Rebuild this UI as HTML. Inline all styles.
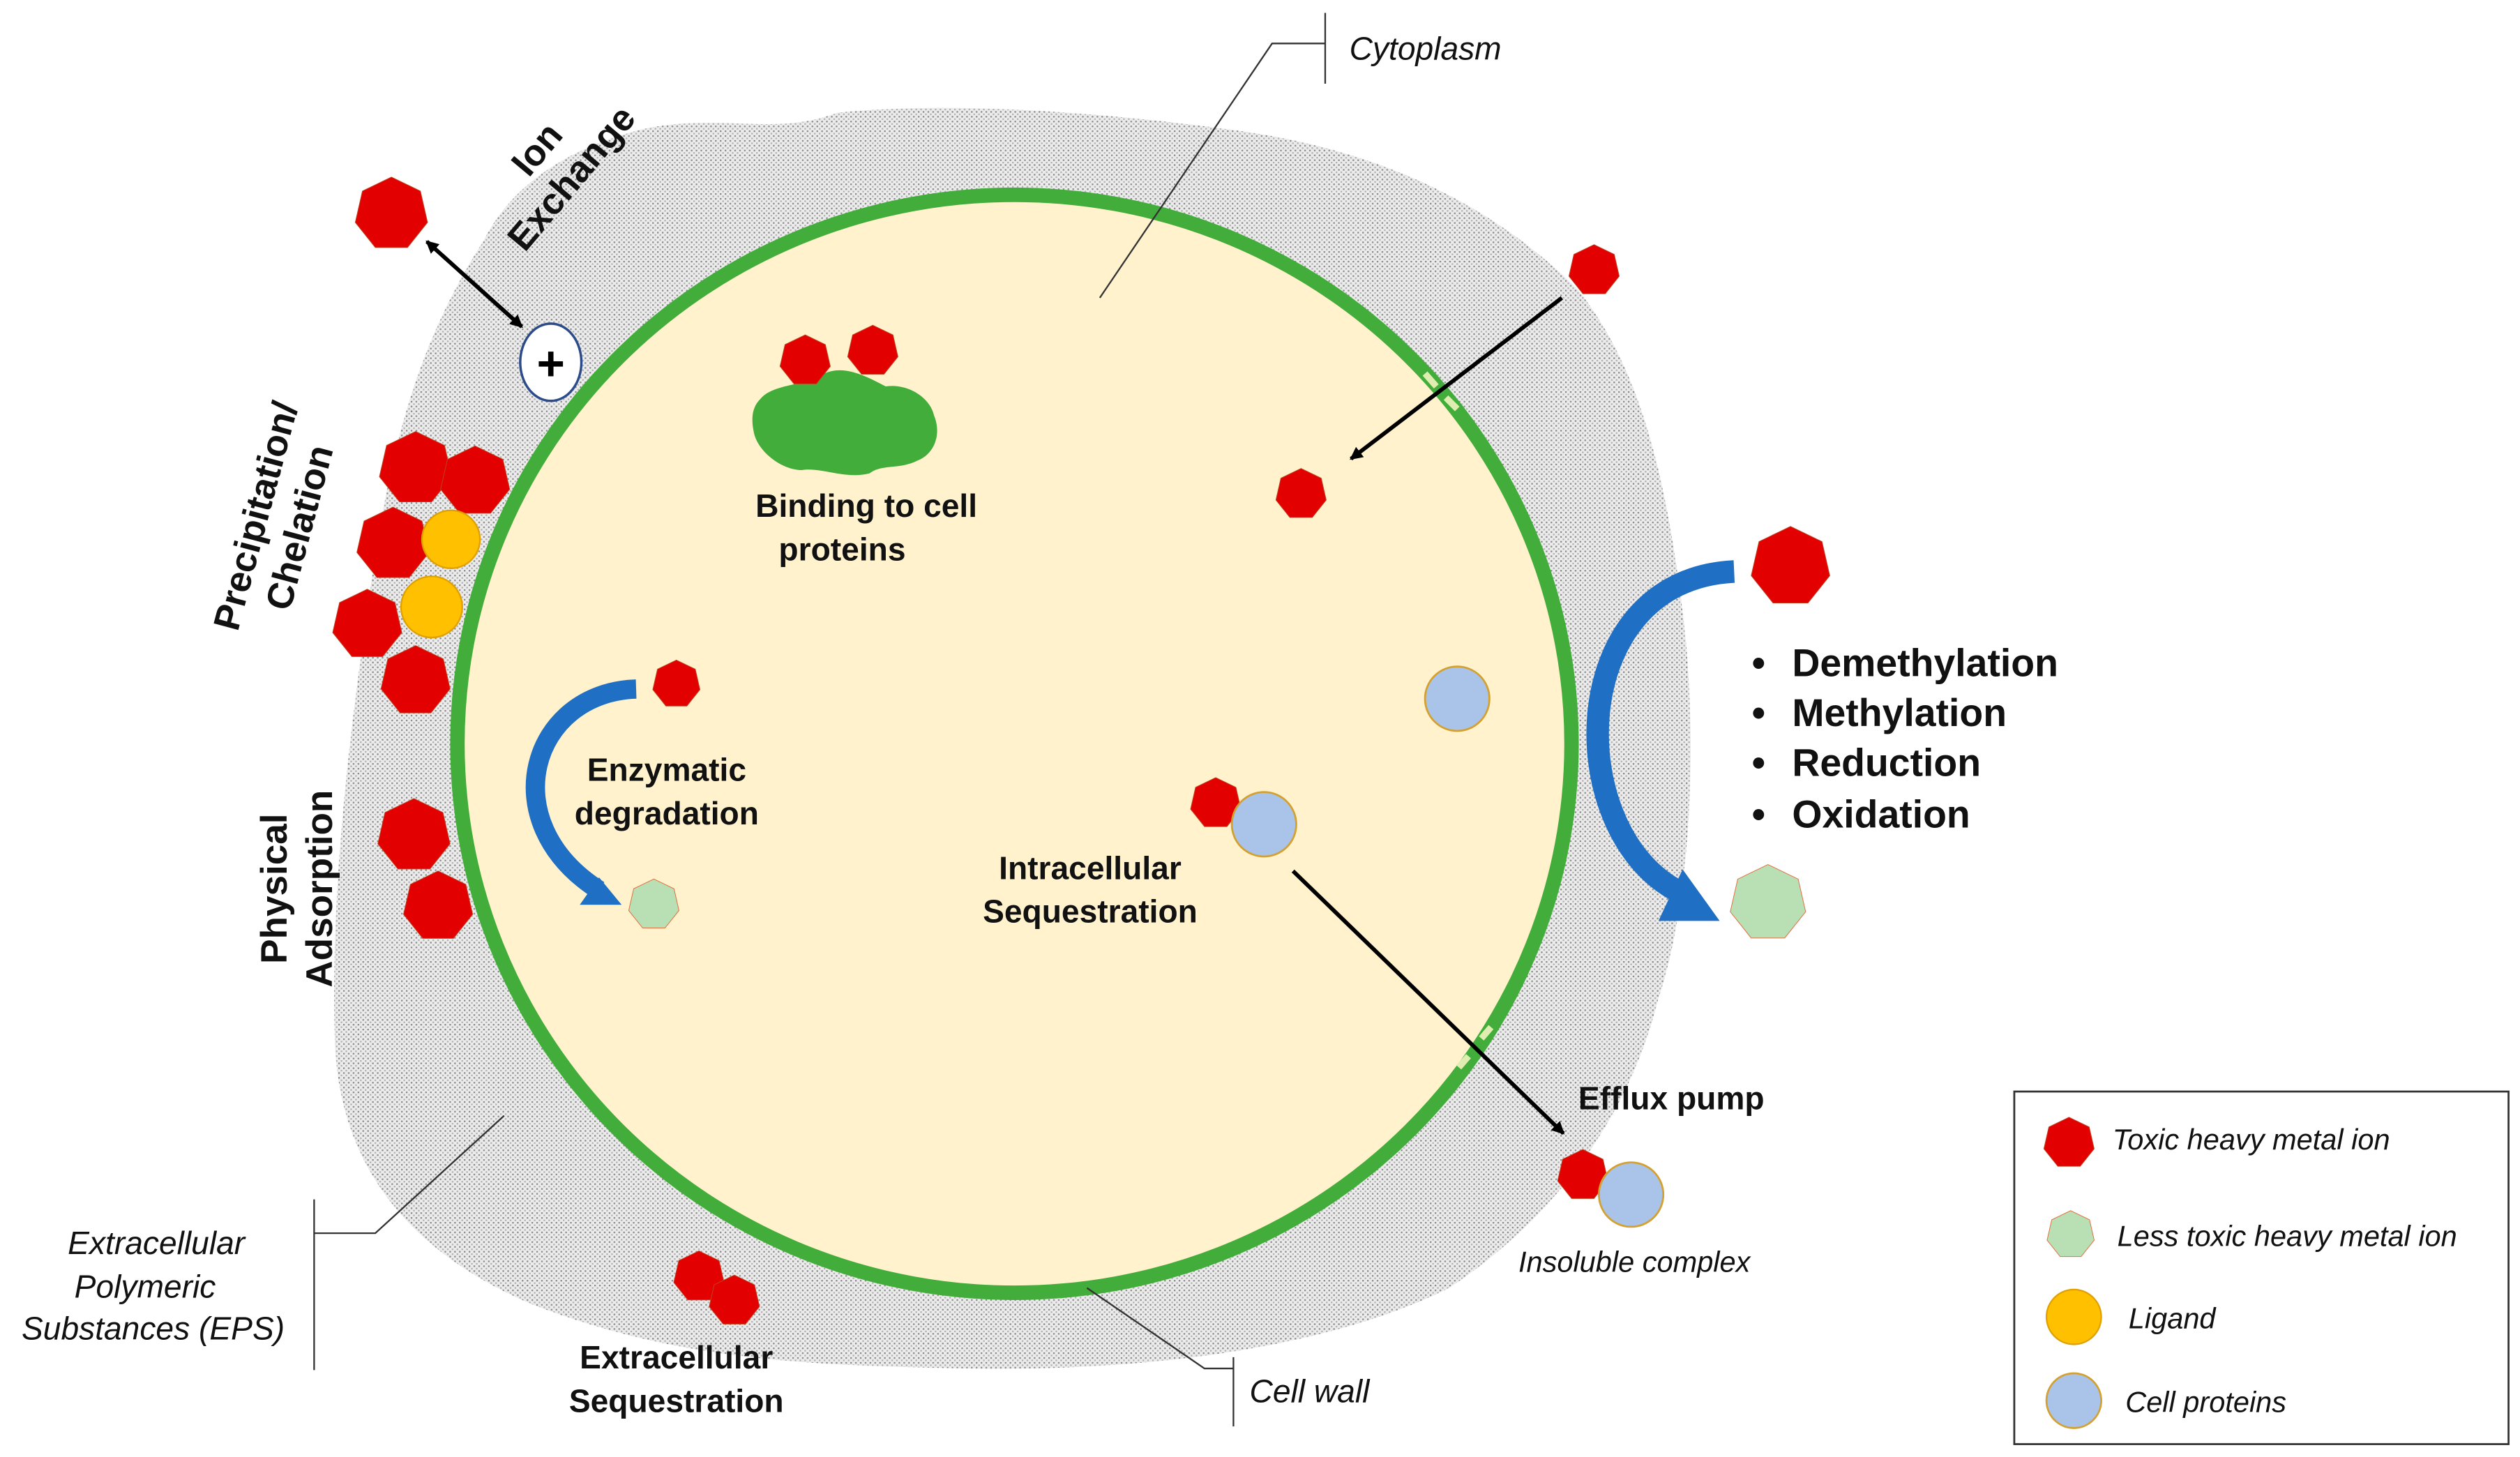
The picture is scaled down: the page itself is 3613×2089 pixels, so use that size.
<!DOCTYPE html>
<html><head><meta charset="utf-8"><style>
html,body{margin:0;padding:0;background:#fff}
svg{display:block}
text{font-family:"Liberation Sans",Arial,sans-serif}
.b{font-weight:bold;fill:#111}
.i{font-style:italic;fill:#111}
</style></head><body>
<svg width="3613" height="2089" viewBox="0 0 1565 905" xmlns="http://www.w3.org/2000/svg">
<defs>
<pattern id="dots" width="3" height="3" patternUnits="userSpaceOnUse">
<rect width="3" height="3" fill="#ececec"/><rect width="1" height="1" fill="#8a8a8a"/><rect x="1.5" y="1.5" width="1" height="1" fill="#b0b0b0"/>
</pattern>
<polygon id="hep" vector-effect="non-scaling-stroke" points="0,-1 0.782,-0.623 0.975,0.223 0.434,0.901 -0.434,0.901 -0.975,0.223 -0.782,-0.623"/>
<marker id="ah" markerWidth="8" markerHeight="8" refX="7" refY="4" orient="auto" markerUnits="userSpaceOnUse"><path d="M0,0 L8,4 L0,8 z" fill="#000"/></marker>
<marker id="ahs" markerWidth="8" markerHeight="8" refX="1" refY="4" orient="auto" markerUnits="userSpaceOnUse"><path d="M8,0 L0,4 L8,8 z" fill="#000"/></marker>
</defs>
<!-- EPS -->
<path d="M300,150 C320,110 360,90 400,80 C450,70 480,85 520,70 C600,62 700,72 760,80 C860,92 930,130 980,180 C1020,230 1035,300 1045,380 C1055,460 1050,560 1030,620 C1010,700 960,760 900,800 C820,840 700,852 600,850 C500,848 420,845 330,810 C260,780 212,730 208,650 C205,560 215,470 228,380 C240,290 255,220 300,150 Z" fill="url(#dots)"/>
<!-- cell -->
<ellipse cx="630" cy="462" rx="346" ry="341" fill="#fff2cc" stroke="#42ad3a" stroke-width="9"/>
<g stroke="#dfeeb0" stroke-width="4"><line x1="885" y1="232" x2="892" y2="240"/><line x1="898" y1="247" x2="905" y2="254"/><line x1="920" y1="645" x2="926" y2="638"/><line x1="906" y1="663" x2="912" y2="656"/></g>
<!-- callouts -->
<g stroke="#333" stroke-width="1" fill="none">
<polyline points="683,185 790,27 823,27"/><line x1="823" y1="8" x2="823" y2="52"/>
<polyline points="675,800 748,850 766,850"/><line x1="766" y1="843" x2="766" y2="886"/>
<polyline points="313,693 233,766 195,766"/><line x1="195" y1="745" x2="195" y2="851"/>
</g>
<!-- green blob -->
<path d="M472,248 C480,238 500,240 512,232 C525,226 540,235 550,240 C565,238 578,248 580,258 C585,270 580,282 570,286 C558,292 548,288 540,294 C525,298 510,290 498,292 C485,292 470,280 468,268 C466,258 468,252 472,248 Z" fill="#42ad3a"/>
<!-- plus -->
<ellipse cx="342" cy="225" rx="19" ry="24" fill="#fff" stroke="#2b4b8a" stroke-width="1.5"/>
<text x="342" y="236" text-anchor="middle" font-size="30" font-weight="bold">+</text>
<!-- arrows -->
<g stroke="#000" stroke-width="2.5">
<line x1="265" y1="150" x2="324" y2="203" marker-end="url(#ah)" marker-start="url(#ahs)"/>
<line x1="970" y1="185" x2="839" y2="285" marker-end="url(#ah)"/>
<line x1="803" y1="541" x2="971" y2="704" marker-end="url(#ah)"/>
</g>
<!-- blue curved arrows -->
<path d="M395,428 C330,430 305,510 372,553" fill="none" stroke="#1f6fc4" stroke-width="12"/>
<polygon points="386,562 360,562 372,545" fill="#1f6fc4"/>
<path d="M1077,355 C970,360 970,520 1045,555" fill="none" stroke="#1f6fc4" stroke-width="14"/>
<polygon points="1068,572 1030,572 1045,540" fill="#1f6fc4"/>
<!-- red ions -->
<g fill="#e30000" stroke="#c04020" stroke-width="1">
<use href="#hep" transform="translate(243,133) scale(23)"/>
<use href="#hep" transform="translate(990,168) scale(16)"/>
<use href="#hep" transform="translate(500,224) scale(16)"/>
<use href="#hep" transform="translate(542,218) scale(16)"/>
<use href="#hep" transform="translate(808,307) scale(16)"/>
<use href="#hep" transform="translate(1112,352) scale(25)"/>
<use href="#hep" transform="translate(420,425) scale(15)"/>
<use href="#hep" transform="translate(755,499) scale(16)"/>
<use href="#hep" transform="translate(983,730) scale(16)"/>
<use href="#hep" transform="translate(434,793) scale(16)"/>
<use href="#hep" transform="translate(456,808) scale(16)"/>
<use href="#hep" transform="translate(1285,710) scale(16)"/>
<use href="#hep" transform="translate(258,291) scale(23)"/>
<use href="#hep" transform="translate(295,299) scale(22)"/>
<use href="#hep" transform="translate(244,338) scale(23)"/>
<use href="#hep" transform="translate(228,388) scale(22)"/>
<use href="#hep" transform="translate(258,423) scale(22)"/>
<use href="#hep" transform="translate(257,519) scale(23)"/>
<use href="#hep" transform="translate(272,563) scale(22)"/>
</g>
<g fill="#ffc000" stroke="#e0a000"><circle cx="280" cy="335" r="18"/><circle cx="268" cy="377" r="19"/><circle cx="1288" cy="818" r="17"/></g>
<g fill="#b9e0b5" stroke="#e07040" stroke-width="1">
<use href="#hep" transform="translate(406,562) scale(16)"/>
<use href="#hep" transform="translate(1098,561) scale(24)"/>
<use href="#hep" transform="translate(1286,767) scale(15)"/>
</g>
<g fill="#a9c4e8" stroke="#d4a030" stroke-width="1.2"><circle cx="905" cy="434" r="20"/><circle cx="785" cy="512" r="20"/><circle cx="1013" cy="742" r="20"/><circle cx="1288" cy="870" r="17"/></g>
<!-- labels -->
<text x="838" y="37" font-size="20" class="i">Cytoplasm</text>
<text x="776" y="871" font-size="20" class="i">Cell wall</text>
<g font-size="20" class="i" text-anchor="middle"><text x="97" y="779">Extracellular</text><text x="90" y="806">Polymeric</text><text x="95" y="832">Substances (EPS)</text></g>
<text x="1015" y="790" font-size="18" class="i" text-anchor="middle">Insoluble complex</text>
<g font-size="20" class="b" text-anchor="middle">
<text x="538" y="321">Binding to cell</text><text x="523" y="348">proteins</text>
<text x="414" y="485">Enzymatic</text><text x="414" y="512">degradation</text>
<text x="677" y="546">Intracellular</text><text x="677" y="573">Sequestration</text>
<text x="420" y="850">Extracellular</text><text x="420" y="877">Sequestration</text>
<text x="1038" y="689">Efflux pump</text>
</g>
<g font-size="24" class="b">
<text x="1088" y="420">•</text><text x="1113" y="420">Demethylation</text>
<text x="1088" y="451">•</text><text x="1113" y="451">Methylation</text>
<text x="1088" y="482">•</text><text x="1113" y="482">Reduction</text>
<text x="1088" y="514">•</text><text x="1113" y="514">Oxidation</text>
</g>
<g font-size="23" class="b" text-anchor="middle">
<text transform="translate(347,104) rotate(-50)"><tspan x="0" y="-10">Ion</tspan><tspan x="0" y="18">Exchange</tspan></text>
<text transform="translate(176,325) rotate(-75)"><tspan x="0" y="-10">Precipitation/</tspan><tspan x="0" y="18">Chelation</tspan></text>
<text transform="translate(186,552) rotate(-90)"><tspan x="0" y="-8">Physical</tspan><tspan x="0" y="20">Adsorption</tspan></text>
</g>
<!-- legend -->
<rect x="1251" y="678" width="307" height="219" fill="none" stroke="#333" stroke-width="1.2"/>
<g font-size="18" class="i">
<text x="1312" y="714">Toxic heavy metal ion</text>
<text x="1315" y="774">Less toxic heavy metal ion</text>
<text x="1322" y="825">Ligand</text>
<text x="1320" y="877">Cell proteins</text>
</g>
</svg>
</body></html>
